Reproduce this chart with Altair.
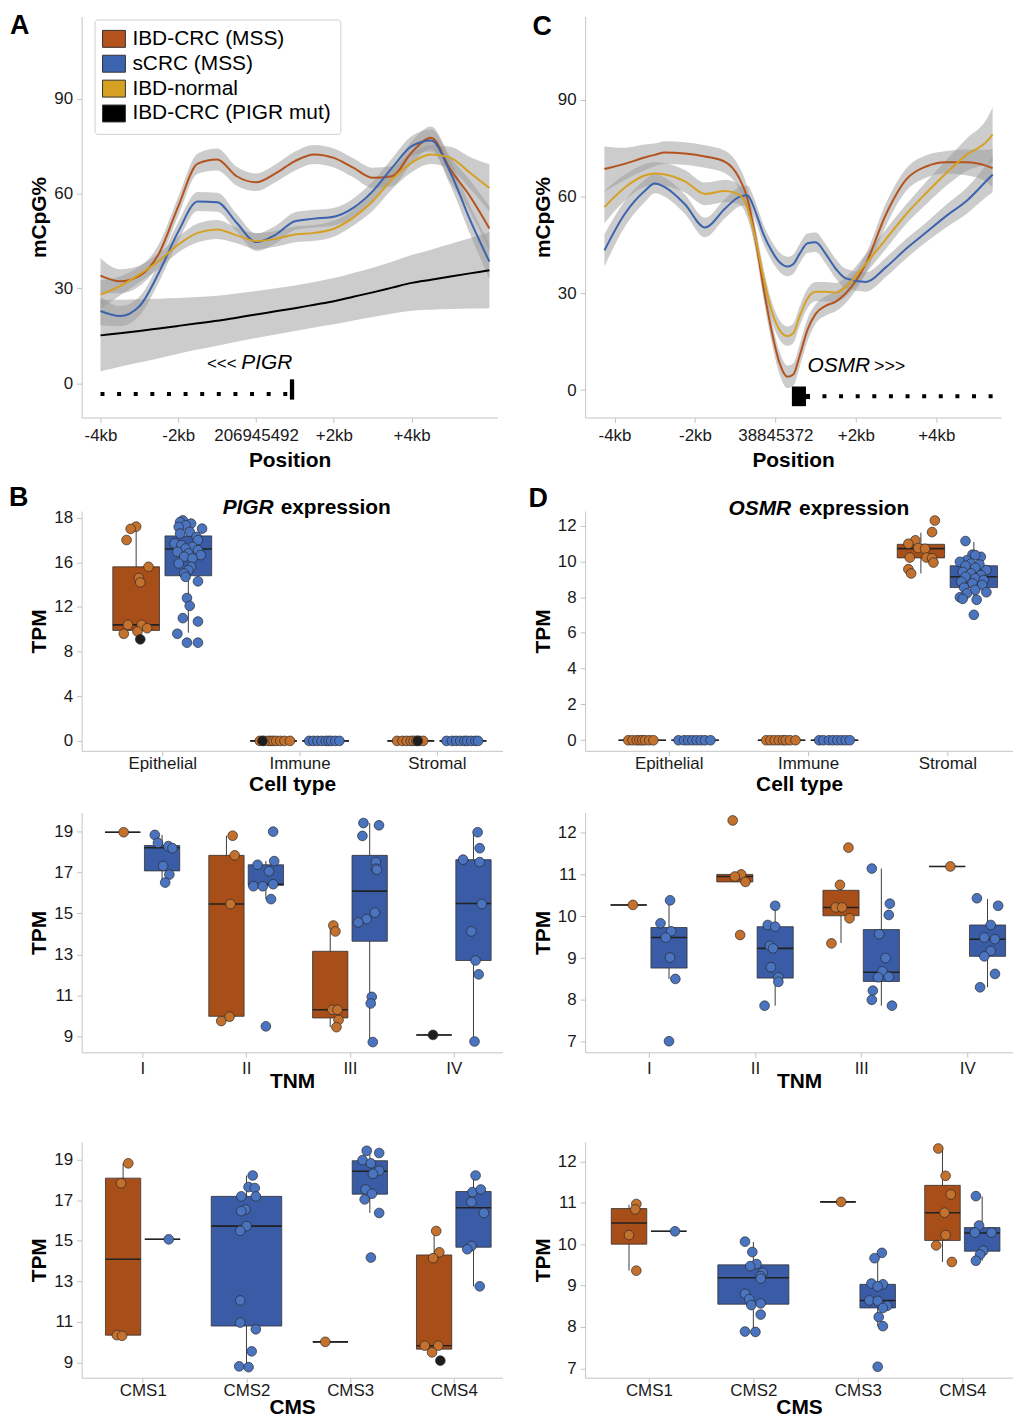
import altair as alt
import pandas as pd

FONT = "Liberation Sans"
AXIS_GREY = "#c4c4c4"

LINE_GROUPS = ["IBD-CRC (MSS)", "sCRC (MSS)", "IBD-normal", "IBD-CRC (PIGR mut)"]
LINE_COLORS = ["#B4531D", "#3B63AE", "#D6A022", "#000000"]
BOX_GROUPS = ["IBD-CRC", "sCRC"]
BOX_COLORS = ["#A84E18", "#3A5BA5"]
PT_GROUPS = ["IBD-CRC", "sCRC", "PIGR mut"]
PT_COLORS = ["#C4712E", "#4A74C0", "#1E1E1E"]

# ---------------- Panel A : PIGR methylation ----------------
a_pos = [-4, -3.5, -3, -2.5, -2, -1.5, -1, -0.5, 0, 0.5, 1, 1.5, 2, 2.5, 3, 3.5, 4, 4.5, 5, 5.5, 6]
a_ibdcrc = [34.1, 32.3, 34.0, 41.0, 56.0, 69.5, 70.8, 65.5, 63.6, 66.4, 70.3, 72.4, 71.3, 68.2, 65.0, 65.5, 73.0, 77.7, 67.6, 59.2, 49.0]
a_scrc = [22.9, 21.3, 24.4, 35.0, 48.0, 57.5, 57.3, 50.8, 44.7, 47.0, 51.3, 52.1, 52.7, 55.5, 60.8, 68.2, 75.0, 76.8, 66.6, 51.8, 38.5]
a_ibdnorm = [28.1, 30.8, 34.5, 38.7, 43.9, 47.6, 48.7, 46.8, 45.0, 45.7, 47.1, 47.6, 48.9, 52.4, 57.6, 64.5, 69.8, 72.4, 71.3, 66.6, 61.8]
a_pigrmut = [15.2, 15.9, 16.6, 17.4, 18.2, 19.0, 19.8, 20.8, 21.8, 22.8, 23.8, 24.9, 26.0, 27.4, 28.8, 30.3, 31.8, 32.8, 33.8, 34.8, 35.8]
a_se_ibdcrc = [5.5, 3.8, 3.2, 3.0, 3.0, 3.2, 3.5, 3.0, 2.8, 2.8, 3.0, 3.0, 3.0, 3.0, 3.2, 3.2, 3.5, 3.5, 4.0, 5.0, 7.0]
a_se_scrc = [4.5, 3.2, 3.0, 3.0, 3.0, 3.0, 3.0, 2.8, 2.8, 2.8, 2.8, 2.8, 2.8, 3.0, 3.0, 3.0, 3.2, 3.5, 4.0, 4.5, 5.5]
a_se_ibdnorm = [4.5, 3.0, 2.5, 2.5, 2.5, 3.0, 3.0, 2.5, 2.5, 2.5, 2.5, 2.5, 2.5, 2.5, 3.0, 3.0, 3.0, 3.0, 3.5, 5.0, 7.5]
a_se_pigrmut = [11.3, 10.6, 10.0, 9.4, 8.8, 8.3, 7.9, 7.6, 7.4, 7.3, 7.2, 7.2, 7.3, 7.5, 7.8, 8.2, 8.8, 9.5, 10.3, 11.1, 12.0]
a_xlabels = ["-4kb", "-2kb", "206945492", "+2kb", "+4kb"]

# ---------------- Panel C : OSMR methylation ----------------
c_pos = [-4.25, -3.75, -3.25, -3.0, -2.75, -2.25, -1.75, -1.25, -0.9, -0.7, -0.5, -0.3, -0.1, 0.1, 0.3,
         0.45, 0.6, 0.8, 1.0, 1.25, 1.5, 1.75, 2.25, 2.75, 3.25, 3.75, 4.25, 4.75, 5.25, 5.4]
c_ibdcrc = [68.5, 70.1, 72.1, 72.9, 73.6, 73.3, 72.4, 70.7, 65.7, 59.6, 47.3, 32.0, 18.7, 8.5, 4.1,
            4.9, 10.5, 18.7, 23.6, 26.1, 27.4, 30.0, 39.2, 54.5, 65.2, 69.3, 70.6, 70.6, 69.5, 68.8]
c_scrc = [43.3, 54.5, 61.7, 64.0, 62.9, 57.6, 50.4, 56.3, 59.9, 60.4, 55.5, 48.4, 43.3, 39.7, 38.3,
          39.1, 42.2, 45.5, 45.8, 42.2, 37.6, 34.6, 33.5, 38.1, 43.8, 48.9, 54.0, 58.6, 64.9, 66.8]
c_ibdnorm = [56.7, 62.7, 66.5, 67.1, 66.8, 64.7, 60.8, 61.7, 60.6, 56.5, 47.3, 35.1, 24.8, 18.7, 16.7,
             17.7, 22.8, 28.4, 30.5, 30.5, 30.2, 32.0, 39.2, 46.8, 54.5, 61.1, 67.3, 72.9, 77.0, 79.2]
c_se_ibdcrc = [7, 5, 4, 3.5, 3.5, 3.5, 3.5, 3.5, 3.5, 3.5, 3.5, 3.5, 3.5, 3.5, 3.5,
               3.5, 3.5, 3.5, 3, 3, 3, 3, 3, 3.5, 3.5, 3.5, 3.5, 4, 5, 6]
c_se_scrc = [5, 4, 3.5, 3, 3, 3, 3, 3, 3, 3, 3, 3, 3, 3, 3,
             3, 3, 3, 3, 3, 3, 3, 3, 3, 3, 3, 3.5, 4, 5, 5.5]
c_se_ibdnorm = [5, 4, 3.5, 3.5, 3.5, 3.5, 3.5, 3.5, 3, 3, 3, 3, 3, 3, 3,
                3, 3, 3, 3, 3, 3, 3, 3, 3, 3, 3.5, 4, 5, 7, 8.5]
c_xlabels = ["-4kb", "-2kb", "38845372", "+2kb", "+4kb"]

# ---------------- Box panels: (category, group, lower whisker, q1, median, q3, upper whisker) -------------
cell_types = ["Epithelial", "Immune", "Stromal"]
tnm_stages = ["I", "II", "III", "IV"]
cms_types = ["CMS1", "CMS2", "CMS3", "CMS4"]

b_boxes = [
    ("Epithelial", "IBD-CRC", 9.6, 9.9, 10.4, 15.6, 19.2),
    ("Epithelial", "sCRC", 9.7, 14.8, 17.2, 18.37, 19.8),
    ("Immune", "IBD-CRC", 0, 0, 0, 0, 0), ("Immune", "sCRC", 0, 0, 0, 0, 0),
    ("Stromal", "IBD-CRC", 0, 0, 0, 0, 0), ("Stromal", "sCRC", 0, 0, 0, 0, 0),
]
b_points = {
    ("Epithelial", "IBD-CRC"): [(19.2, 0.0), (19.0, -0.04), (18.0, -0.07), (15.6, 0.09), (14.6, 0.02), (14.2, 0.03),
                                (10.4, -0.06), (10.4, 0.04), (10.1, 0.08), (9.8, 0.01), (9.6, -0.09)],
    ("Epithelial", "PIGR mut"): [(9.1, 0.03)],
    ("Epithelial", "sCRC"): [(19.76, -0.04), (19.6, -0.06), (19.47, 0.02), (19.32, -0.02), (19.17, -0.07), (19.02, 0.1),
                             (18.73, 0.01), (18.58, -0.06), (18.28, 0.06), (17.99, 0.07), (17.69, -0.1), (17.54, -0.05),
                             (17.39, 0.03), (17.24, -0.02), (17.1, 0.07), (16.95, -0.08), (16.8, 0.0), (16.65, 0.09),
                             (16.5, -0.03), (16.36, 0.03), (15.9, -0.07), (15.6, 0.02), (15.3, 0.0), (15.0, -0.03),
                             (14.7, -0.02), (14.3, 0.07), (12.8, -0.01), (12.1, 0.01), (11.0, -0.04), (10.7, 0.07),
                             (9.6, -0.08), (8.8, -0.01), (8.8, 0.07)],
    ("Immune", "IBD-CRC"): [(0, -0.1), (0, -0.07), (0, -0.04), (0, -0.02), (0, 0.0), (0, 0.02), (0, 0.05), (0, 0.08), (0, 0.12)],
    ("Immune", "PIGR mut"): [(0, -0.08)],
    ("Immune", "sCRC"): [(0, -0.12), (0, -0.09), (0, -0.06), (0, -0.03), (0, 0.0), (0, 0.02), (0, 0.04), (0, 0.07), (0, 0.1)],
    ("Stromal", "IBD-CRC"): [(0, -0.1), (0, -0.06), (0, -0.03), (0, 0.0), (0, 0.02), (0, 0.04), (0, 0.06), (0, 0.09)],
    ("Stromal", "PIGR mut"): [(0, 0.05)],
    ("Stromal", "sCRC"): [(0, -0.12), (0, -0.08), (0, -0.05), (0, -0.02), (0, 0.01), (0, 0.03), (0, 0.06), (0, 0.09), (0, 0.11)],
}

d_boxes = [
    ("Epithelial", "IBD-CRC", 0, 0, 0, 0, 0), ("Epithelial", "sCRC", 0, 0, 0, 0, 0),
    ("Immune", "IBD-CRC", 0, 0, 0, 0, 0), ("Immune", "sCRC", 0, 0, 0, 0, 0),
    ("Stromal", "IBD-CRC", 9.32, 10.19, 10.71, 10.95, 11.6),
    ("Stromal", "sCRC", 7.85, 8.53, 9.14, 9.75, 11.08),
]
d_points = {
    ("Epithelial", "IBD-CRC"): [(0, -0.1), (0, -0.07), (0, -0.04), (0, -0.02), (0, 0.0), (0, 0.02), (0, 0.05), (0, 0.08)],
    ("Epithelial", "sCRC"): [(0, -0.12), (0, -0.08), (0, -0.05), (0, -0.02), (0, 0.01), (0, 0.04), (0, 0.07), (0, 0.11)],
    ("Immune", "IBD-CRC"): [(0, -0.11), (0, -0.08), (0, -0.05), (0, -0.02), (0, 0.01), (0, 0.03), (0, 0.06), (0, 0.1)],
    ("Immune", "sCRC"): [(0, -0.11), (0, -0.08), (0, -0.04), (0, -0.01), (0, 0.02), (0, 0.05), (0, 0.08), (0, 0.11)],
    ("Stromal", "IBD-CRC"): [(12.28, 0.1), (11.63, 0.08), (11.17, -0.04), (10.98, -0.09), (10.74, -0.02), (10.7, 0.03),
                             (10.21, -0.08), (10.21, 0.04), (10.17, 0.08), (9.93, 0.09), (9.56, -0.09), (9.32, -0.07)],
    ("Stromal", "sCRC"): [(11.13, -0.06), (10.37, -0.01), (10.25, 0.05), (10.34, 0.01), (10.06, -0.05), (9.97, -0.1),
                          (9.88, -0.02), (9.82, 0.04), (9.75, -0.06), (9.64, 0.01), (9.51, 0.09), (9.41, -0.08),
                          (9.32, -0.02), (9.23, 0.05), (9.14, -0.06), (9.05, 0.01), (8.95, 0.07), (8.86, -0.09),
                          (8.77, -0.01), (8.68, 0.06), (8.53, -0.07), (8.4, 0.01), (8.27, 0.09), (8.21, -0.05),
                          (7.99, -0.1), (7.9, -0.08), (7.85, 0.02), (7.01, 0.0)],
}

tnm_pigr_boxes = [
    ("I", "IBD-CRC", 18.97, 18.97, 18.97, 18.97, 18.97),
    ("I", "sCRC", 16.5, 17.08, 18.21, 18.32, 18.84),
    ("II", "IBD-CRC", 9.74, 9.97, 15.46, 17.84, 18.8),
    ("II", "sCRC", 15.7, 16.38, 16.42, 17.38, 17.56),
    ("III", "IBD-CRC", 9.44, 9.89, 10.29, 13.15, 14.41),
    ("III", "sCRC", 8.71, 13.64, 16.09, 17.84, 19.42),
    ("IV", "IBD-CRC", 9.06, 9.06, 9.06, 9.06, 9.06),
    ("IV", "sCRC", 8.74, 12.7, 15.49, 17.63, 18.97),
]
tnm_pigr_points = {
    ("I", "IBD-CRC"): [(18.97, 0.01)],
    ("I", "sCRC"): [(18.84, -0.07), (18.45, -0.04), (18.29, 0.06), (18.19, 0.1), (17.32, 0.01), (16.9, 0.07), (16.51, 0.03)],
    ("II", "IBD-CRC"): [(18.8, 0.06), (17.84, 0.08), (15.46, 0.04), (9.95, 0.03), (9.74, -0.05)],
    ("II", "sCRC"): [(19.0, 0.07), (17.56, 0.08), (17.38, -0.08), (17.06, 0.03), (16.43, 0.07), (16.33, -0.12),
                     (16.33, -0.03), (15.7, 0.05), (9.48, 0.0)],
    ("III", "IBD-CRC"): [(14.41, 0.03), (14.12, 0.05), (10.29, 0.02), (10.29, 0.07), (9.79, 0.08), (9.44, 0.06)],
    ("III", "sCRC"): [(19.42, -0.06), (19.31, 0.09), (18.79, -0.07), (17.51, 0.06), (17.19, 0.06), (17.14, 0.07),
                      (15.04, 0.05), (14.72, -0.03), (14.56, -0.11), (10.92, 0.02), (10.6, 0.01), (8.71, 0.03)],
    ("IV", "PIGR mut"): [(9.06, -0.01)],
    ("IV", "sCRC"): [(18.97, 0.04), (18.19, 0.06), (17.63, -0.1), (17.51, 0.06), (15.46, 0.08), (14.12, -0.02),
                     (12.7, 0.02), (12.02, 0.05), (8.74, 0.01)],
}

tnm_osmr_boxes = [
    ("I", "IBD-CRC", 10.27, 10.27, 10.27, 10.27, 10.27),
    ("I", "sCRC", 8.5, 8.76, 9.49, 9.73, 10.38),
    ("II", "IBD-CRC", 10.82, 10.82, 10.95, 11.0, 11.0),
    ("II", "sCRC", 7.86, 8.52, 9.23, 9.75, 10.25),
    ("III", "IBD-CRC", 9.36, 10.01, 10.21, 10.62, 10.75),
    ("III", "sCRC", 7.86, 8.44, 8.66, 9.68, 11.14),
    ("IV", "IBD-CRC", 11.19, 11.19, 11.19, 11.19, 11.19),
    ("IV", "sCRC", 8.3, 9.04, 9.45, 9.79, 10.41),
]
tnm_osmr_points = {
    ("I", "IBD-CRC"): [(10.27, 0.04)],
    ("I", "sCRC"): [(10.38, 0.01), (9.83, -0.08), (9.64, 0.02), (9.49, -0.03), (9.01, 0.01), (8.5, 0.06), (7.01, 0.0)],
    ("II", "IBD-CRC"): [(12.29, -0.02), (11.0, 0.06), (10.95, 0.0), (10.82, 0.1), (9.55, 0.05)],
    ("II", "sCRC"): [(10.25, 0.0), (9.79, -0.07), (9.75, 0.0), (9.29, -0.05), (9.23, -0.02), (8.78, -0.04),
                     (8.54, 0.03), (8.43, 0.03), (7.86, -0.1)],
    ("III", "IBD-CRC"): [(11.64, 0.07), (10.75, -0.01), (10.21, -0.05), (10.21, 0.01), (9.95, 0.08), (9.35, -0.09)],
    ("III", "sCRC"): [(11.14, -0.09), (10.3, 0.08), (10.03, 0.07), (9.57, -0.02), (9.0, 0.04), (8.68, 0.01),
                      (8.54, -0.03), (8.55, 0.07), (8.22, -0.08), (8.0, -0.09), (7.86, 0.1)],
    ("IV", "IBD-CRC"): [(11.19, 0.03)],
    ("IV", "sCRC"): [(10.43, -0.1), (10.25, 0.1), (9.79, 0.03), (9.49, -0.03), (9.45, 0.07), (9.17, 0.03),
                     (9.04, -0.03), (8.62, 0.07), (8.3, -0.07)],
}

cms_pigr_boxes = [
    ("CMS1", "IBD-CRC", 10.31, 10.34, 14.09, 18.09, 18.82),
    ("CMS1", "sCRC", 15.07, 15.07, 15.07, 15.07, 15.07),
    ("CMS2", "sCRC", 8.76, 10.79, 15.72, 17.19, 18.22),
    ("CMS3", "IBD-CRC", 10.01, 10.01, 10.01, 10.01, 10.01),
    ("CMS3", "sCRC", 16.37, 17.3, 18.43, 18.95, 19.44),
    ("CMS4", "IBD-CRC", 9.49, 9.65, 9.82, 14.3, 15.48),
    ("CMS4", "sCRC", 12.75, 14.68, 16.63, 17.43, 18.22),
]
cms_pigr_points = {
    ("CMS1", "IBD-CRC"): [(18.82, 0.05), (17.84, -0.02), (10.34, -0.06), (10.31, -0.01)],
    ("CMS1", "sCRC"): [(15.07, 0.06)],
    ("CMS2", "sCRC"): [(18.22, 0.06), (17.65, 0.02), (17.6, 0.08), (17.19, -0.05), (17.19, 0.09), (16.54, -0.01),
                       (16.46, -0.05), (15.72, 0.0), (15.49, -0.06), (12.05, -0.06), (10.96, -0.06), (10.63, 0.09),
                       (9.54, 0.05), (8.8, -0.07), (8.76, 0.02)],
    ("CMS3", "IBD-CRC"): [(10.01, -0.05)],
    ("CMS3", "sCRC"): [(19.44, -0.03), (19.33, 0.09), (18.98, -0.07), (18.82, 0.01), (18.46, 0.09), (18.3, 0.03),
                       (17.53, -0.04), (17.32, 0.02), (17.04, -0.05), (16.37, 0.09), (14.17, 0.01)],
    ("CMS4", "IBD-CRC"): [(15.48, 0.02), (14.43, 0.05), (14.14, -0.01), (9.82, -0.09), (9.82, 0.04), (9.49, -0.02)],
    ("CMS4", "PIGR mut"): [(9.08, 0.06)],
    ("CMS4", "sCRC"): [(18.22, 0.02), (17.4, -0.01), (17.53, 0.07), (16.91, -0.02), (16.37, 0.1), (14.74, -0.02),
                       (14.58, -0.06), (12.75, 0.06)],
}

cms_osmr_boxes = [
    ("CMS1", "IBD-CRC", 9.36, 10.0, 10.51, 10.86, 10.95),
    ("CMS1", "sCRC", 10.31, 10.31, 10.31, 10.31, 10.31),
    ("CMS2", "sCRC", 7.88, 8.55, 9.19, 9.5, 10.05),
    ("CMS3", "IBD-CRC", 11.02, 11.02, 11.02, 11.02, 11.02),
    ("CMS3", "sCRC", 8.02, 8.46, 8.64, 9.03, 9.79),
    ("CMS4", "IBD-CRC", 9.57, 10.09, 10.76, 11.42, 12.31),
    ("CMS4", "sCRC", 9.6, 9.83, 10.27, 10.4, 11.15),
]
cms_osmr_points = {
    ("CMS1", "IBD-CRC"): [(10.97, 0.07), (10.84, 0.06), (10.22, 0.0), (9.36, 0.07)],
    ("CMS1", "sCRC"): [(10.31, 0.06)],
    ("CMS2", "sCRC"): [(10.06, -0.08), (9.81, -0.01), (9.52, 0.03), (9.47, -0.03), (9.31, 0.09), (9.23, 0.07),
                       (9.17, 0.07), (8.8, -0.08), (8.67, -0.04), (8.53, -0.02), (8.57, 0.07), (8.3, 0.07),
                       (7.89, -0.08), (7.88, 0.02)],
    ("CMS3", "IBD-CRC"): [(11.02, 0.03)],
    ("CMS3", "sCRC"): [(9.79, 0.04), (9.66, -0.03), (9.05, -0.06), (9.03, 0.05), (8.98, 0.0), (8.64, -0.08),
                       (8.63, 0.0), (8.51, 0.09), (8.46, 0.05), (8.24, 0.01), (8.02, 0.05), (7.04, 0.0)],
    ("CMS4", "IBD-CRC"): [(12.31, -0.04), (11.65, 0.03), (11.2, 0.08), (10.76, 0.02), (10.22, 0.03), (9.97, -0.06),
                          (9.57, 0.09)],
    ("CMS4", "sCRC"): [(11.16, -0.06), (10.45, -0.03), (10.28, -0.07), (10.28, 0.09), (9.84, 0.01), (9.75, -0.02),
                       (9.6, -0.06)],
}

DODGE = 0.19
HALF = 0.17
ONE = pd.DataFrame({"k": [0]})


def label_expr(values, labels):
    expr = "''"
    for v, l in reversed(list(zip(values, labels))):
        expr = f"(datum.value == {v}) ? '{l}' : {expr}"
    return expr


def txt(text, x, y, size, weight="normal", style="normal", align="left"):
    return alt.Chart(ONE).mark_text(
        text=text, font=FONT, fontSize=size, fontWeight=weight, fontStyle=style,
        align=align, baseline="alphabetic", color="black"
    ).encode(x=alt.value(x), y=alt.value(y))


def meth_panel(pos, names, series, ses, xdom, ydom, xlabels, width, height, gene, legend, extra):
    rows = []
    for name, vals, se in zip(names, series, ses):
        for p, v, h in zip(pos, vals, se):
            rows.append({"pos": p, "val": v, "lo": v - h, "hi": v + h, "grp": name})
    df = pd.DataFrame(rows)
    xsc = alt.Scale(domain=xdom, nice=False, zero=False)
    ysc = alt.Scale(domain=ydom, nice=False, zero=False)
    xt = [-4, -2, 0, 2, 4]
    xax = alt.Axis(values=xt, labelExpr=label_expr(xt, xlabels), title="Position",
                   labelPadding=5, titlePadding=6)
    yax = alt.Axis(values=[0, 30, 60, 90], title="mCpG%", titlePadding=4, labelPadding=4)

    def X(f):
        return alt.X(f, scale=xsc, axis=xax)

    def Y(f):
        return alt.Y(f, scale=ysc, axis=yax)

    band = alt.Chart(df).mark_area(color="#9a9a9a", opacity=0.5, interpolate="monotone").encode(
        x=X("pos:Q"), y=Y("lo:Q"), y2="hi:Q", detail="grp:N")
    # the line colour scale lists the groups in reverse so that it is not merged with the legend below
    line = alt.Chart(df).mark_line(strokeWidth=2, interpolate="monotone").encode(
        x=X("pos:Q"), y=Y("val:Q"),
        color=alt.Color("grp:N", scale=alt.Scale(domain=LINE_GROUPS[::-1], range=LINE_COLORS[::-1]), legend=None))
    layers = [band, line]

    g = gene
    dots = alt.Chart(pd.DataFrame([{"pos": g["dot_from"], "pos2": g["dot_to"], "val": g["dot_y"]}])).mark_rule(
        color="black", strokeWidth=4, strokeDash=[4, 12.7], strokeCap="butt").encode(
        x=X("pos:Q"), x2="pos2:Q", y=Y("val:Q"))
    rects = alt.Chart(pd.DataFrame(g["rects"], columns=["pos", "pos2", "val", "val2"])).mark_rect(color="black").encode(
        x=X("pos:Q"), x2="pos2:Q", y=Y("val:Q"), y2="val2:Q")
    layers += [dots, rects]
    for (t, p, v, size, style, align) in g["texts"]:
        layers.append(alt.Chart(pd.DataFrame([{"pos": p, "val": v}])).mark_text(
            text=t, font=FONT, fontSize=size, fontStyle=style, align=align, baseline="alphabetic",
            color="black").encode(x=X("pos:Q"), y=Y("val:Q")))

    if legend:
        leg = alt.Chart(df).transform_filter("false").mark_point(
            filled=True, opacity=1, stroke="#333333", strokeWidth=1).encode(
            x=X("pos:Q"), y=Y("val:Q"),
            fill=alt.Fill("grp:N", scale=alt.Scale(domain=LINE_GROUPS, range=LINE_COLORS),
                          legend=alt.Legend(orient="none", legendX=13, legendY=3, title=None,
                                            symbolType="M-1.35,-1H1.35V1H-1.35Z", symbolSize=290,
                                            symbolStrokeColor="#333333", symbolStrokeWidth=1,
                                            symbolOpacity=1,
                                            labelFont=FONT, labelFontSize=21, labelColor="black",
                                            labelLimit=400, labelOffset=8, rowPadding=2, padding=9,
                                            strokeColor="#cfcfcf", fillColor="white",
                                            cornerRadius=3)))
        layers.append(leg)
    layers += extra
    return alt.layer(*layers).properties(width=width, height=height)


def box_panel(cats, boxes, points, xdom, ydom, yvals, ylabels, xtitle, width, height, label_pad, title_pad, extra):
    pairs = {}
    for b in boxes:
        pairs.setdefault(b[0], []).append(b[1])

    def center(cat, grp):
        ci = cats.index(cat) + 1
        if len(pairs.get(cat, [])) > 1:
            return ci + (-DODGE if grp == "IBD-CRC" else DODGE), HALF
        return ci, 2 * HALF

    brows = []
    for cat, grp, lo, q1, med, q3, hi in boxes:
        c, hw = center(cat, grp)
        brows.append(dict(pos=c, pl=c - hw, pr=c + hw, lo=lo, q1=q1, med=med, q3=q3, hi=hi, grp=grp))
    prows = []
    for (cat, col), vals in points.items():
        c, _ = center(cat, "sCRC" if col == "sCRC" else "IBD-CRC")
        for v, j in vals:
            prows.append(dict(pos=c + j, val=v, col=col))
    bdf = pd.DataFrame(brows)
    pdf = pd.DataFrame(prows)

    ticks = list(range(1, len(cats) + 1))
    xsc = alt.Scale(domain=xdom, nice=False, zero=False)
    ysc = alt.Scale(domain=ydom, nice=False, zero=False)
    xax = alt.Axis(values=ticks, labelExpr=label_expr(ticks, cats), title=xtitle,
                   labelPadding=label_pad, titlePadding=title_pad)
    yax = alt.Axis(values=yvals, labelExpr=label_expr(yvals, ylabels), title="TPM",
                   titlePadding=4, labelPadding=4)

    def X(f):
        return alt.X(f, scale=xsc, axis=xax)

    def Y(f):
        return alt.Y(f, scale=ysc, axis=yax)

    whisk = alt.Chart(bdf).mark_rule(color="#3c3c3c", strokeWidth=1).encode(
        x=X("pos:Q"), y=Y("lo:Q"), y2="hi:Q")
    box = alt.Chart(bdf).mark_rect(stroke="#333333", strokeWidth=0.8).encode(
        x=X("pl:Q"), x2="pr:Q", y=Y("q1:Q"), y2="q3:Q",
        fill=alt.Fill("grp:N", scale=alt.Scale(domain=BOX_GROUPS, range=BOX_COLORS), legend=None))
    med = alt.Chart(bdf).mark_rule(color="#222222", strokeWidth=1.6).encode(
        x=X("pl:Q"), x2="pr:Q", y=Y("med:Q"))
    pts = alt.Chart(pdf).mark_circle(size=95, opacity=1, stroke="#2a2a2a", strokeWidth=0.7).encode(
        x=X("pos:Q"), y=Y("val:Q"),
        color=alt.Color("col:N", scale=alt.Scale(domain=PT_GROUPS, range=PT_COLORS), legend=None))
    return alt.layer(whisk, box, med, pts, *extra).properties(width=width, height=height)


def spacer(h):
    return alt.Chart(ONE).mark_point(opacity=0).encode(
        x=alt.value(0), y=alt.value(0)).properties(width=1, height=h)


gene_a = {
    "dot_from": -4.0, "dot_to": 0.83, "dot_y": -3.3,
    "rects": [(0.87, 0.98, -5.1, 1.3)],
    "texts": [("<<<", -0.5, 4.6, 17, "normal", "right"), ("PIGR", -0.38, 4.6, 21, "italic", "left")],
}
gene_c = {
    "dot_from": 1.17, "dot_to": 5.45, "dot_y": -1.94,
    "rects": [(0.41, 0.76, -5.0, 1.1), (0.76, 0.86, -2.8, -1.2)],
    "texts": [("OSMR", 0.8, 5.6, 21, "italic", "left"), (">>>", 2.45, 5.6, 18, "normal", "left")],
}

LETTER = 27

pA = meth_panel(a_pos, LINE_GROUPS, [a_ibdcrc, a_scrc, a_ibdnorm, a_pigrmut],
                [a_se_ibdcrc, a_se_scrc, a_se_ibdnorm, a_se_pigrmut],
                [-4.485, 6.21], [-10.75, 116.0], a_xlabels, 418, 403, gene_a, True,
                [txt("A", -72, 18, LETTER, "bold")])
pC = meth_panel(c_pos, LINE_GROUPS[:3], [c_ibdcrc, c_scrc, c_ibdnorm],
                [c_se_ibdcrc, c_se_scrc, c_se_ibdnorm],
                [-4.73, 5.61], [-8.5, 115.8], c_xlabels, 418, 403, gene_c, False,
                [txt("C", -53, 19, LETTER, "bold")])

pB = box_panel(cell_types, b_boxes, b_points, [0.413, 3.478], [-0.89, 20.6],
               [0, 4, 8, 12, 16, 20], ["0", "4", "8", "12", "16", "18"], "Cell type", 423, 241, 0, 2,
               [txt("B", -73, -5, LETTER, "bold"),
                txt("PIGR", 193, 3, 21, "bold", "italic", "right"),
                txt("expression", 200, 3, 21, "bold")])
pD = box_panel(cell_types, d_boxes, d_points, [0.4, 3.471], [-0.59, 12.81],
               [0, 2, 4, 6, 8, 10, 12], ["0", "2", "4", "6", "8", "10", "12"], "Cell type", 430, 241, 0, 2,
               [txt("D", -57, -4, LETTER, "bold"),
                txt("OSMR", 207, 4, 21, "bold", "italic", "right"),
                txt("expression", 215, 4, 21, "bold")])
pTL = box_panel(tnm_stages, tnm_pigr_boxes, tnm_pigr_points, [0.415, 4.47], [8.21, 19.935],
                [9, 11, 13, 15, 17, 19], ["9", "11", "13", "15", "17", "19"], "TNM", 423, 241, 3, -6, [])
pTR = box_panel(tnm_stages, tnm_osmr_boxes, tnm_osmr_points, [0.4, 4.43], [6.745, 12.48],
                [7, 8, 9, 10, 11, 12], ["7", "8", "9", "10", "11", "12"], "TNM", 430, 241, 3, -6, [])
pCL = box_panel(cms_types, cms_pigr_boxes, cms_pigr_points, [0.41, 4.47], [8.24, 19.88],
                [9, 11, 13, 15, 17, 19], ["9", "11", "13", "15", "17", "19"], "CMS", 423, 237, 0, -2, [])
pCR = box_panel(cms_types, cms_osmr_boxes, cms_osmr_points, [0.39, 4.485], [6.775, 12.47],
                [7, 8, 9, 10, 11, 12], ["7", "8", "9", "10", "11", "12"], "CMS", 430, 237, 0, -2, [])

chart = alt.concat(
    pA, pC, spacer(94), spacer(94), pB, pD, spacer(62), spacer(62),
    pTL, pTR, spacer(90), spacer(90), pCL, pCR,
    columns=2, spacing={"row": 0, "column": 83}, bounds="flush", align="each",
    padding={"left": 1, "top": 1, "right": 0, "bottom": 0},
).resolve_scale(
    color="independent", fill="independent"
).resolve_legend(
    color="independent", fill="independent"
).configure(
    font=FONT
).configure_view(
    stroke=None
).configure_axis(
    labelFont=FONT, titleFont=FONT, labelFontSize=17, titleFontSize=21, titleFontWeight="bold",
    labelColor="#1a1a1a", titleColor="#000000", domainColor=AXIS_GREY, tickColor=AXIS_GREY,
    tickSize=5, grid=False, labelOverlap=False, labelFlush=False
)

chart.save("out.html", embed_options={"renderer": "svg", "actions": False})
